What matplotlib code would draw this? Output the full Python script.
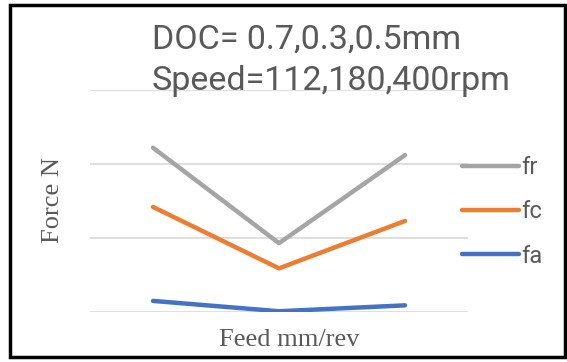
import matplotlib
matplotlib.use("Agg")
import matplotlib.pyplot as plt
from matplotlib.patches import Rectangle

# data (gridlines every 500, no tick labels shown)
feed = ["f1", "f2", "f3"]
fr = [1110, 465, 1060]
fc = [710, 295, 615]
fa = [75, 5, 45]

series = [("fr", fr, "#A5A5A5"), ("fc", fc, "#ED7D31"), ("fa", fa, "#4472C4")]

fig = plt.figure(figsize=(5.67, 3.62), dpi=100)
ax = fig.add_axes([90/567, 1 - 312/362, 378/567, 222/362])

x = range(len(feed))
for name, vals, col in series:
    ax.plot(x, vals, color=col, lw=3.2, solid_capstyle="round", label=name, zorder=3)

ax.set_xlim(-0.5, len(feed) - 0.5)
ax.set_ylim(0, 1500)
ax.set_yticks([0, 500, 1000, 1500])
ax.yaxis.grid(True, color="#D9D9D9", lw=1.2)
ax.tick_params(left=False, bottom=False, labelleft=False, labelbottom=False)
for s in ax.spines.values():
    s.set_visible(False)

# title lines overlapping the plot like in the original
fig.text(152/567, 1 - 40/362, "DOC= 0.7,0.3,0.5mm", fontsize=24.5, color="#595959",
         family="Roboto", va="center", ha="left")
fig.text(152/567, 1 - 81/362, "Speed=112,180,400rpm", fontsize=24.5, color="#595959",
         family="Roboto", va="center", ha="left")

fig.text(53/567, 1 - 200/362, "Force N", rotation=90, fontsize=19, family="Liberation Serif",
         color="#595959", va="center", ha="center")
fig.text(289/567, 1 - 340/362, "Feed mm/rev", fontsize=19, family="Liberation Serif",
         color="#595959", va="center", ha="center")

leg = ax.legend(loc="center left", bbox_to_anchor=(462/567, 1 - 212/362),
                bbox_transform=fig.transFigure, frameon=False, handlelength=2.4,
                handletextpad=0.1, labelspacing=0.9, borderpad=0, borderaxespad=0,
                prop={"family": "Roboto", "size": 17})
for t in leg.get_texts():
    t.set_color("#595959")

fig.patches.append(Rectangle((10/567, 5/362), 555/567, 352/362, transform=fig.transFigure,
                             fill=False, ec="black", lw=2.5))

fig.savefig("out.png", dpi=100)
